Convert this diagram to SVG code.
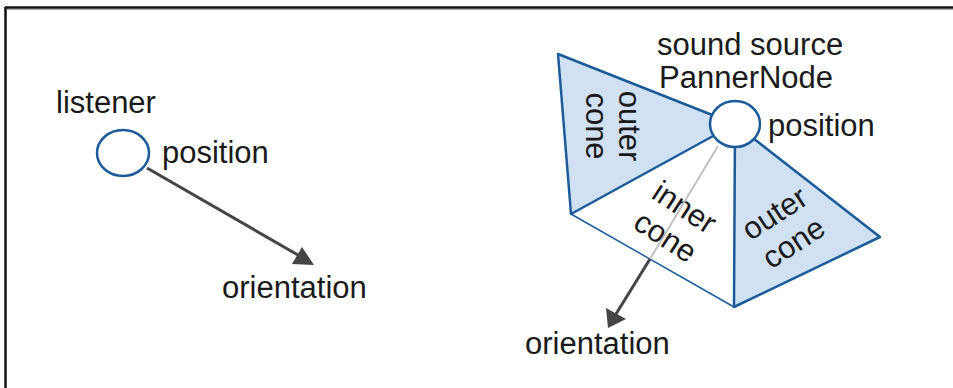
<svg xmlns="http://www.w3.org/2000/svg" width="953" height="388" viewBox="0 0 953 388">
<style>
text{font-family:"Liberation Sans",Arial,sans-serif;font-size:31px;fill:#1a1a1a}
.cone{fill:#cfe1f3;stroke:#1c5a99;stroke-width:2.5;stroke-linejoin:round}
.node{fill:#fff;stroke:#1c5a99;stroke-width:2.5}
.arrow{stroke:#454545;stroke-width:3;fill:none}
.ah{fill:#454545}
</style>
<rect width="953" height="388" fill="#fff"/>
<g id="frame">
<line x1="5" y1="7.5" x2="953" y2="7.5" stroke="#111" stroke-width="2.5"/>
<line x1="5.5" y1="7" x2="5.5" y2="388" stroke="#111" stroke-width="2.5"/>
<line x1="7" y1="9.5" x2="953" y2="9.5" stroke="#aaa" stroke-width="1"/>
</g>
<g id="listener">
<ellipse class="node" cx="123" cy="153" rx="26" ry="23"/>
<text x="56" y="113">listener</text>
<text x="162" y="163">position</text>
<text x="222" y="298">orientation</text>
</g>
<g id="inner-cone">
<polygon points="571,214 735,124 734,307" fill="#fff"/>
<line x1="571" y1="214" x2="734" y2="307" stroke="#1c5a99" stroke-width="1.5"/>
<g transform="translate(675,222) rotate(33)">
<text x="0" y="-7" text-anchor="middle">inner</text>
<text x="0" y="28" text-anchor="middle">cone</text>
</g>
</g>
<g id="outer-cone-left">
<polygon class="cone" points="558,54 735,124 571,214"/>
<g transform="translate(612,126) rotate(90)">
<text x="0" y="-7" text-anchor="middle">outer</text>
<text x="0" y="26" text-anchor="middle">cone</text>
</g>
</g>
<g id="outer-cone-right">
<polygon class="cone" points="735,124 880,237 734,307"/>
<g transform="translate(784,228) rotate(-33)">
<text x="0" y="-7" text-anchor="middle">outer</text>
<text x="0" y="28" text-anchor="middle">cone</text>
</g>
</g>
<g id="connectors">
<line class="arrow" x1="147" y1="168" x2="298" y2="255"/>
<polygon class="ah" points="314,265 292,264 302,247"/>
<line x1="718" y1="146" x2="650" y2="259" stroke="#bdbdbd" stroke-width="1.8"/>
<line class="arrow" x1="650" y1="259" x2="616" y2="314"/>
<polygon class="ah" points="608,328 606,308 626,319"/>
</g>
<g id="sound-source">
<ellipse class="node" cx="735" cy="124" rx="25" ry="23"/>
<text x="657" y="55">sound source</text>
<text x="659" y="88">PannerNode</text>
<text x="768" y="136">position</text>
<text x="525" y="354">orientation</text>
</g>
</svg>
